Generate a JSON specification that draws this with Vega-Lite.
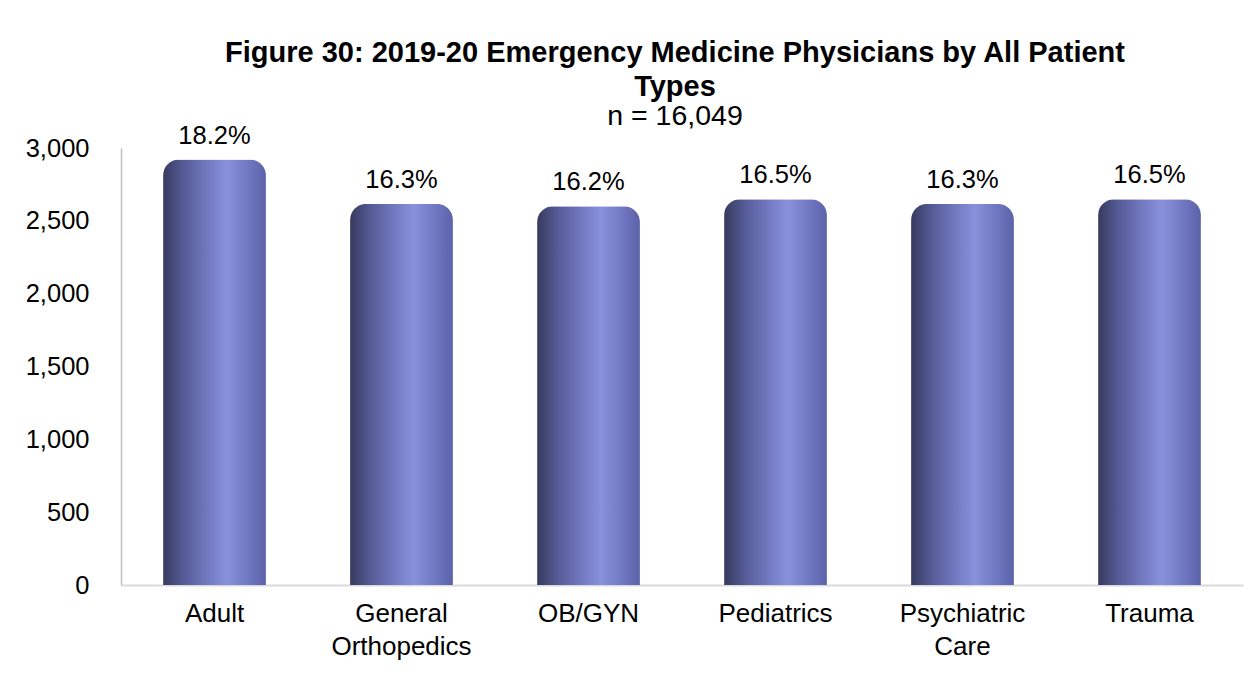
{
  "$schema": "https://vega.github.io/schema/vega-lite/v6.json",
  "autosize": "none",
  "width": 1122,
  "height": 437,
  "padding": {"left": 121, "top": 148, "right": 10, "bottom": 99},
  "background": "white",
  "title": {
    "text": ["Figure 30: 2019-20 Emergency Medicine Physicians by All Patient", "Types"],
    "subtitle": "n = 16,049",
    "font": "Liberation Sans",
    "fontSize": 29,
    "fontWeight": "bold",
    "lineHeight": 34,
    "color": "black",
    "subtitleFont": "Liberation Sans",
    "subtitleFontSize": 28.5,
    "subtitleColor": "black",
    "subtitlePadding": 0,
    "anchor": "middle",
    "dx": -7,
    "offset": -7
  },
  "data": {
    "values": [
      {"type": "Adult", "count": 2921, "pct": "18.2%"},
      {"type": "General Orthopedics", "count": 2616, "pct": "16.3%"},
      {"type": "OB/GYN", "count": 2600, "pct": "16.2%"},
      {"type": "Pediatrics", "count": 2648, "pct": "16.5%"},
      {"type": "Psychiatric Care", "count": 2616, "pct": "16.3%"},
      {"type": "Trauma", "count": 2648, "pct": "16.5%"}
    ]
  },
  "encoding": {
    "x": {
      "field": "type",
      "type": "nominal",
      "sort": null,
      "title": null,
      "scale": {"paddingInner": 0.45, "paddingOuter": 0.225},
      "axis": {
        "labelAngle": 0,
        "labelExpr": "split(datum.label, ' ')",
        "labelFont": "Liberation Sans",
        "labelFontSize": 26,
        "labelColor": "black",
        "labelLineHeight": 33,
        "labelPadding": 15,
        "ticks": false,
        "domainColor": "#d9d9d9",
        "domainWidth": 2
      }
    },
    "y": {
      "field": "count",
      "type": "quantitative",
      "title": null,
      "scale": {"domain": [0, 3000], "nice": false},
      "axis": {
        "values": [0, 500, 1000, 1500, 2000, 2500, 3000],
        "format": ",d",
        "grid": false,
        "ticks": false,
        "labelFont": "Liberation Sans",
        "labelFontSize": 25.5,
        "labelColor": "black",
        "labelPadding": 32,
        "domainColor": "#bfbfbf",
        "domainWidth": 1.5
      }
    }
  },
  "layer": [
    {
      "mark": {
        "type": "bar",
        "cornerRadiusTopLeft": 16,
        "cornerRadiusTopRight": 16,
        "color": {
          "gradient": "linear",
          "x1": 0, "y1": 0, "x2": 1, "y2": 0,
          "stops": [
            {"offset": 0, "color": "#363a5e"},
            {"offset": 0.2, "color": "#555b96"},
            {"offset": 0.5, "color": "#7b82cc"},
            {"offset": 0.62, "color": "#8a91dc"},
            {"offset": 0.85, "color": "#6e75bf"},
            {"offset": 1, "color": "#5b62a8"}
          ]
        }
      }
    },
    {
      "mark": {
        "type": "text",
        "baseline": "bottom",
        "dy": -11,
        "font": "Liberation Sans",
        "fontSize": 25.5,
        "color": "black"
      },
      "encoding": {"text": {"field": "pct"}}
    }
  ],
  "config": {"view": {"stroke": null}}
}
